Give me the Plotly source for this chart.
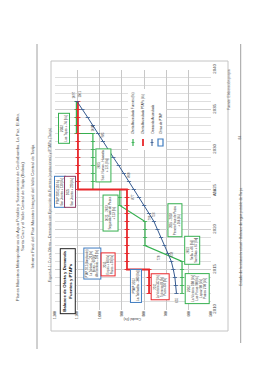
import plotly.graph_objects as go

W, H = 268, 380

# ---------------- data ----------------
value_ticks = [500, 600, 700, 800, 900, 1000, 1100, 1200]
year_ticks = [2010, 2015, 2020, 2025, 2030, 2035, 2040]

red_years = [2012, 2013, 2014, 2015, 2015, 2016, 2017, 2018, 2019, 2020, 2021, 2022, 2023, 2024,
             2025, 2025, 2026, 2027, 2028, 2029, 2030, 2031, 2032, 2033, 2034, 2035, 2036]
red_vals = [778, 778, 778, 778, 877, 877, 877, 877, 877, 877, 877, 877, 877, 877,
            877, 1097, 1097, 1097, 1097, 1097, 1097, 1097, 1097, 1097, 1097, 1097, 1097]

green_years = [2012, 2013, 2014, 2015, 2016, 2018, 2019, 2020, 2021, 2023, 2024, 2025,
               2025, 2026, 2027, 2028, 2029, 2030, 2031, 2032, 2032, 2033, 2034, 2035, 2036]
green_vals = [630, 630, 630, 630, 630, 796, 796, 796, 796, 909, 909, 909,
              1030, 1030, 1030, 1030, 1030, 1030, 1030, 1030, 1104, 1104, 1104, 1104, 1104]

demand_years = list(range(2012, 2037))
demand_vals = [655, 658, 662, 669, 678, 693, 709, 724, 740, 756, 778, 800, 823,
               846, 868, 891, 914, 938, 962, 985, 1007, 1030, 1053, 1077, 1101]

# data labels: (year, value) pairs taken from the series above
demand_labels = [(2012, 655), (2016, 678), (2021, 756), (2026, 868), (2031, 985), (2036, 1101)]
red_labels = [(2015, 778), (2025, 877), (2036, 1097)]
green_labels = [(2016, 630), (2021, 796), (2023, 909), (2032, 1030)]

legend_names = ["Oferta Acumulada Fuentes (l/s)", "Oferta Acumulada PTAPs (l/s)",
                "Demanda Acumulada", "Obras de PTAP"]

box_texts = [
    "2032<br>Los Tajos + 74 [l/s]",
    "2025<br>Sist. Nuevo - Huacata<br>+ 121 [l/s]",
    "PTAP 2025 [130 l/s]<br>San Jacinto + 130 [l/s]",
    "2025<br>San Jacinto + 220 [l/s]",
    "2021 - 2023<br>Segunda Fase de Pozos<br>+ 113 [l/s]",
    "PTAP 2015 (Ampliación)<br>La Tablada + 120 [l/s]<br>Bruno + 60 [l/s]<br>Alto Senkata + 200 [l/s]",
    "2015<br>Erquis + 60 [l/s]<br>Pozos + 39 [l/s]",
    "PTAP 2012<br>La Tabladita - 300 [l/s]",
    "2012<br>La Victoria 342 [l/s]<br>Tolomosa 86 [l/s]<br>Pozos 350 [l/s]",
    "2016 - 2018<br>Primera Fase de Pozos<br>+ 166 [l/s]",
    "2022<br>Sella + 46 [l/s]<br>San Blas + 67 [l/s]",
    "2012<br>La Victoria 180 [l/s]<br>Los Pinos 90 [l/s]<br>Lapaz 90 [l/s]<br>Pozos 270 [l/s]",
]
box_vals = [1160, 985, 1178, 1133, 953, 1032, 960, 839, 729, 660, 583, 561]
box_years = [2032.7, 2028.0, 2024.7, 2024.7, 2022.0, 2015.8, 2015.7, 2013.0, 2012.9, 2021.2, 2017.4, 2012.6]
GREEN, RED, BLUE, PURPLE = "#35B04F", "#E8262A", "#3F7CC0", "#8E3B63"
box_colors = [GREEN, GREEN, BLUE, PURPLE, GREEN, BLUE, RED, BLUE, RED, GREEN, GREEN, GREEN]
box_fonts = [3.2, 3.1, 2.8, 2.8, 3.0, 2.6, 2.8, 3.1, 2.7, 2.8, 3.1, 3.2]

FONT = "Arial"

# ---------------- helpers ----------------
def px(x):
    return x / W

def py(y):
    return 1 - y / H

fig = go.Figure()

DEMAND = "#34598F"
fig.add_trace(go.Scatter(x=green_vals, y=green_years, mode="lines+markers",
                         line=dict(color=GREEN, width=1.2),
                         marker=dict(symbol="line-ew", size=3, line=dict(color=GREEN, width=0.8))))
fig.add_trace(go.Scatter(x=red_vals, y=red_years, mode="lines+markers",
                         line=dict(color=RED, width=1.8),
                         marker=dict(symbol="line-ew", size=3.5, line=dict(color=RED, width=0.9))))
fig.add_trace(go.Scatter(x=demand_vals, y=demand_years, mode="lines+markers",
                         line=dict(color=DEMAND, width=1),
                         marker=dict(symbol="line-ew", size=3, line=dict(color=DEMAND, width=0.8))))

ann = []
LBL = dict(size=3, color="#333333", family=FONT)
for yr, v in demand_labels:
    ann.append(dict(x=v, y=yr, xref="x", yref="y", text=str(v), showarrow=False, textangle=-90,
                    font=LBL, xshift=(3 if yr == 2036 else 0), yshift=(-7 if yr == 2012 else 7)))
red_shift = {2015: (9, 11), 2025: (6, -7), 2036: (-3, 7)}
for yr, v in red_labels:
    sx, sy = red_shift[yr]
    ann.append(dict(x=v, y=yr, xref="x", yref="y", text=str(v), showarrow=False, textangle=-90,
                    font=LBL, xshift=sx, yshift=sy))
green_shift = {2016: (4, 6), 2021: (4, 3), 2023: (-4, 6), 2032: (0, 6)}
for yr, v in green_labels:
    sx, sy = green_shift[yr]
    ann.append(dict(x=v, y=yr, xref="x", yref="y", text=str(v), showarrow=False, textangle=-90,
                    font=LBL, xshift=sx, yshift=sy))

for t, v, yr, c, fs in zip(box_texts, box_vals, box_years, box_colors, box_fonts):
    ann.append(dict(x=v, y=yr, xref="x", yref="y", text=t, showarrow=False, textangle=-90,
                    font=dict(size=fs, color="#333333", family=FONT), bordercolor=c, borderwidth=1,
                    borderpad=1, bgcolor="white"))

# title box
ann.append(dict(x=1144, y=2013.6, xref="x", yref="y",
                text="<b>Balance de Oferta y Demanda</b><br><b>Fuentes y PTAPs</b>",
                showarrow=False, textangle=-90, font=dict(size=4.3, color="#111111", family=FONT),
                bordercolor="#222222", borderwidth=1, borderpad=1.5, bgcolor="white"))

# axis titles
ann.append(dict(x=px(219), y=py(193), xref="paper", yref="paper", text="Año", showarrow=False,
                textangle=-90, font=dict(size=3.8, color="#333333", family=FONT)))
ann.append(dict(x=px(133), y=py(323), xref="paper", yref="paper", text="Caudal (l/s)", showarrow=False,
                textangle=180, font=dict(size=3.4, color="#333333", family=FONT)))

# legend texts
leg_x = [133, 143, 152, 160.5]
for name, lx in zip(legend_names, leg_x):
    ann.append(dict(x=px(lx), y=py(136), xref="paper", yref="paper", text=name, showarrow=False,
                    textangle=-90, yanchor="bottom", xanchor="center",
                    font=dict(size=3, color="#333333", family=FONT)))

# page texts
PAGE = "#555555"
ann += [
    dict(x=px(12.7), y=py(207), text="Planes Maestros Metropolitanos de Agua Potable y Saneamiento de Cochabamba, La Paz, El Alto,",
         font=dict(size=4.3, color=PAGE, family=FONT)),
    dict(x=px(17.6), y=py(207), text="Santa Cruz y el Valle Central de Tarija (Bolivia)",
         font=dict(size=4.3, color=PAGE, family=FONT)),
    dict(x=px(27), y=py(207), text="Informe Final del Plan Maestro Integral del Valle Central de Tarija",
         font=dict(size=4.3, color=PAGE, family=FONT)),
    dict(x=px(46), y=py(205), text="Figura 4-1: Curva Oferta – Demanda con Ejecución de Fuentes (captaciones) y PTAPs (Tarija)",
         font=dict(size=3.7, color=PAGE, family=FONT)),
    dict(x=px(232.5), y=py(67), text="Fuente: Elaboración propia", font=dict(size=3.4, color=PAGE, family=FONT)),
    dict(x=px(243.5), y=py(138), text="84", font=dict(size=3.4, color=PAGE, family=FONT)),
    dict(x=px(245), y=py(288), text="Estudio de la situación actual - Balance de agua potable de Tarija",
         font=dict(size=3.4, color=PAGE, family=FONT)),
]
for a in ann[-7:]:
    a.update(xref="paper", yref="paper", showarrow=False, textangle=-90)

shapes = [
    # page rules
    dict(type="line", xref="paper", yref="paper", x0=px(37), x1=px(37), y0=py(44), y1=py(349),
         line=dict(color="#A0A0A0", width=1)),
    dict(type="line", xref="paper", yref="paper", x0=px(240.7), x1=px(240.7), y0=py(44), y1=py(343),
         line=dict(color="#A0A0A0", width=1)),
    # chart frame
    dict(type="rect", xref="paper", yref="paper", x0=px(51), x1=px(228), y0=py(331), y1=py(61),
         line=dict(color="#C4C4C4", width=1), layer="below"),
    # legend background
    dict(type="rect", xref="paper", yref="paper", x0=px(128), x1=px(166), y0=py(150), y1=py(89),
         line=dict(width=0), fillcolor="white", layer="above"),
    # legend symbols
    dict(type="line", xref="paper", yref="paper", x0=px(133), x1=px(133), y0=py(146), y1=py(139),
         line=dict(color=GREEN, width=1.2)),
    dict(type="line", xref="paper", yref="paper", x0=px(131.5), x1=px(134.5), y0=py(142.5), y1=py(142.5),
         line=dict(color=GREEN, width=0.8)),
    dict(type="line", xref="paper", yref="paper", x0=px(143), x1=px(143), y0=py(146), y1=py(139),
         line=dict(color=RED, width=1.8)),
    dict(type="line", xref="paper", yref="paper", x0=px(152), x1=px(152), y0=py(146), y1=py(139),
         line=dict(color=DEMAND, width=1)),
    dict(type="line", xref="paper", yref="paper", x0=px(150.5), x1=px(153.5), y0=py(142.5), y1=py(142.5),
         line=dict(color=DEMAND, width=0.8)),
    dict(type="rect", xref="paper", yref="paper", x0=px(158), x1=px(163), y0=py(146), y1=py(139),
         line=dict(color=BLUE, width=1.2)),
]

fig.update_layout(
    template="none",
    width=W, height=H,
    margin=dict(l=0, r=0, t=0, b=0, pad=0),
    paper_bgcolor="white", plot_bgcolor="white",
    showlegend=False,
    font=dict(family=FONT, size=4, color="#333333"),
    xaxis=dict(domain=[px(55), px(211)], range=[1200, 500], tickvals=value_ticks, tickformat=",",
               tickangle=-90, tickfont=dict(size=3.2, color="#333333", family=FONT), showgrid=True,
               gridcolor="#C8C8C8", gridwidth=1, zeroline=False, showline=False, ticks="",
               automargin=False, fixedrange=True),
    yaxis=dict(domain=[py(309.5), py(69.5)], range=[2010, 2040], tickvals=year_ticks, side="right",
               tickangle=-90, tickfont=dict(size=4.3, color="#333333", family=FONT), showgrid=True,
               gridcolor="#CFCFCF", gridwidth=1, zeroline=False, showline=False, ticks="",
               minor=dict(dtick=1, tick0=2010, showgrid=True, gridcolor="#DEDEDE", gridwidth=1),
               automargin=False, fixedrange=True),
    annotations=ann,
    shapes=shapes,
)

fig.write_html("out.html")
